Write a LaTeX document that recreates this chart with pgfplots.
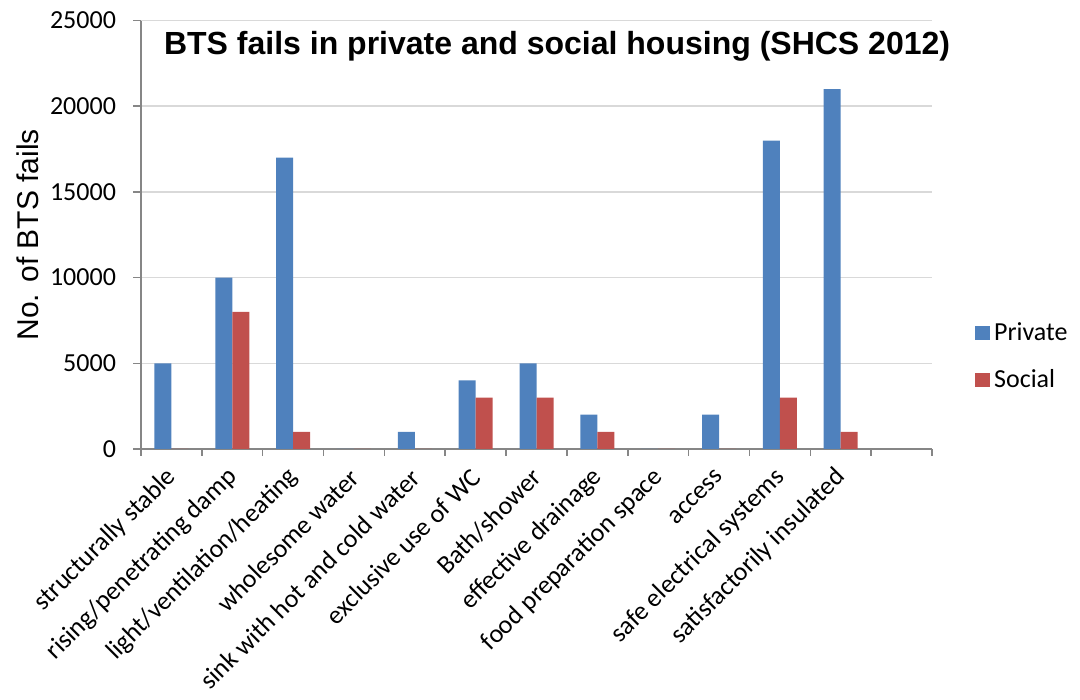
\documentclass[border=0pt]{standalone}
\usepackage{pgfplots}
\pgfplotsset{compat=1.18}
\usepackage{fontspec}
\setmainfont{Liberation Sans}
\newfontfamily\carlito{Carlito}
\definecolor{barblue}{HTML}{4F81BD}
\definecolor{barred}{HTML}{C0504D}
\definecolor{gridgray}{HTML}{D9D9D9}
\definecolor{axisgray}{HTML}{868686}
\newcommand\yt[1]{\mbox{\carlito\fontsize{13}{15}\selectfont #1}}
\begin{document}
\begin{tikzpicture}
\path (0,0) rectangle (540pt,350pt);
\begin{axis}[
  at={(70.5pt,125.5pt)}, anchor=south west,
  scale only axis, width=395.5pt, height=214.2pt,
  ybar=0pt, bar width=8.5pt,
  xmin=-0.5, xmax=12.5, ymin=0, ymax=25000,
  axis x line*=bottom, axis y line*=left,
  axis line style={axisgray, line width=0.8pt},
  every tick/.style={axisgray, line width=0.8pt},
  tick align=outside,
  major tick length=4pt, minor tick length=3.5pt,
  xtick={0,...,11},
  xticklabels={structurally stable, rising/penetrating damp, light/ventilation/heating, wholesome water, sink with hot and cold water, exclusive use of WC, Bath/shower, effective drainage, food preparation space, access, safe electrical systems, satisfactorily insulated},
  major x tick style={draw=none},
  minor xtick={-0.5,0.5,...,12.5},
  xticklabel style={xshift=0.5pt, yshift=-8pt, rotate=45, anchor=east, font=\carlito\fontsize{13}{15}\selectfont, inner sep=0pt},
  ytick={0,5000,10000,15000,20000,25000},
  scaled y ticks=false,
  yticklabels={\yt{0},\yt{5000},\yt{10000},\yt{15000},\yt{20000},\yt{25000}},
  yticklabel style={xshift=-5pt, font=\carlito\fontsize{13}{15}\selectfont},
  ymajorgrids, major grid style={gridgray, line width=0.8pt},
  ylabel={No. of BTS fails},
  ylabel style={at={(axis description cs:-0.143,0.5)}, anchor=center, font=\fontsize{15}{17}\selectfont},
  title={BTS fails in private and social housing (SHCS 2012)},
  every axis title shift=0pt,
  title style={at={(axis description cs:0.526,0.922)}, anchor=base, font=\bfseries\fontsize{16}{18}\selectfont},
  legend style={draw=none, fill=none, at={(axis description cs:1.054,0.215)}, anchor=west, inner sep=0pt, font=\carlito\fontsize{13}{15}\selectfont, row sep=9pt},
  legend cell align=left,
  legend image code/.code={\fill[#1] (0pt,-3.5pt) rectangle (7.5pt,3.5pt);},
]
\addplot[fill=barblue, draw=none] coordinates {(0,5000)(1,10000)(2,17000)(3,0)(4,1000)(5,4000)(6,5000)(7,2000)(8,0)(9,2000)(10,18000)(11,21000)};
\addplot[fill=barred, draw=none] coordinates {(0,0)(1,8000)(2,1000)(3,0)(4,0)(5,3000)(6,3000)(7,1000)(8,0)(9,0)(10,3000)(11,1000)};
\legend{Private, Social}
\end{axis}
\pgfresetboundingbox
\useasboundingbox (0,0) rectangle (540pt,350pt);
\end{tikzpicture}
\end{document}
